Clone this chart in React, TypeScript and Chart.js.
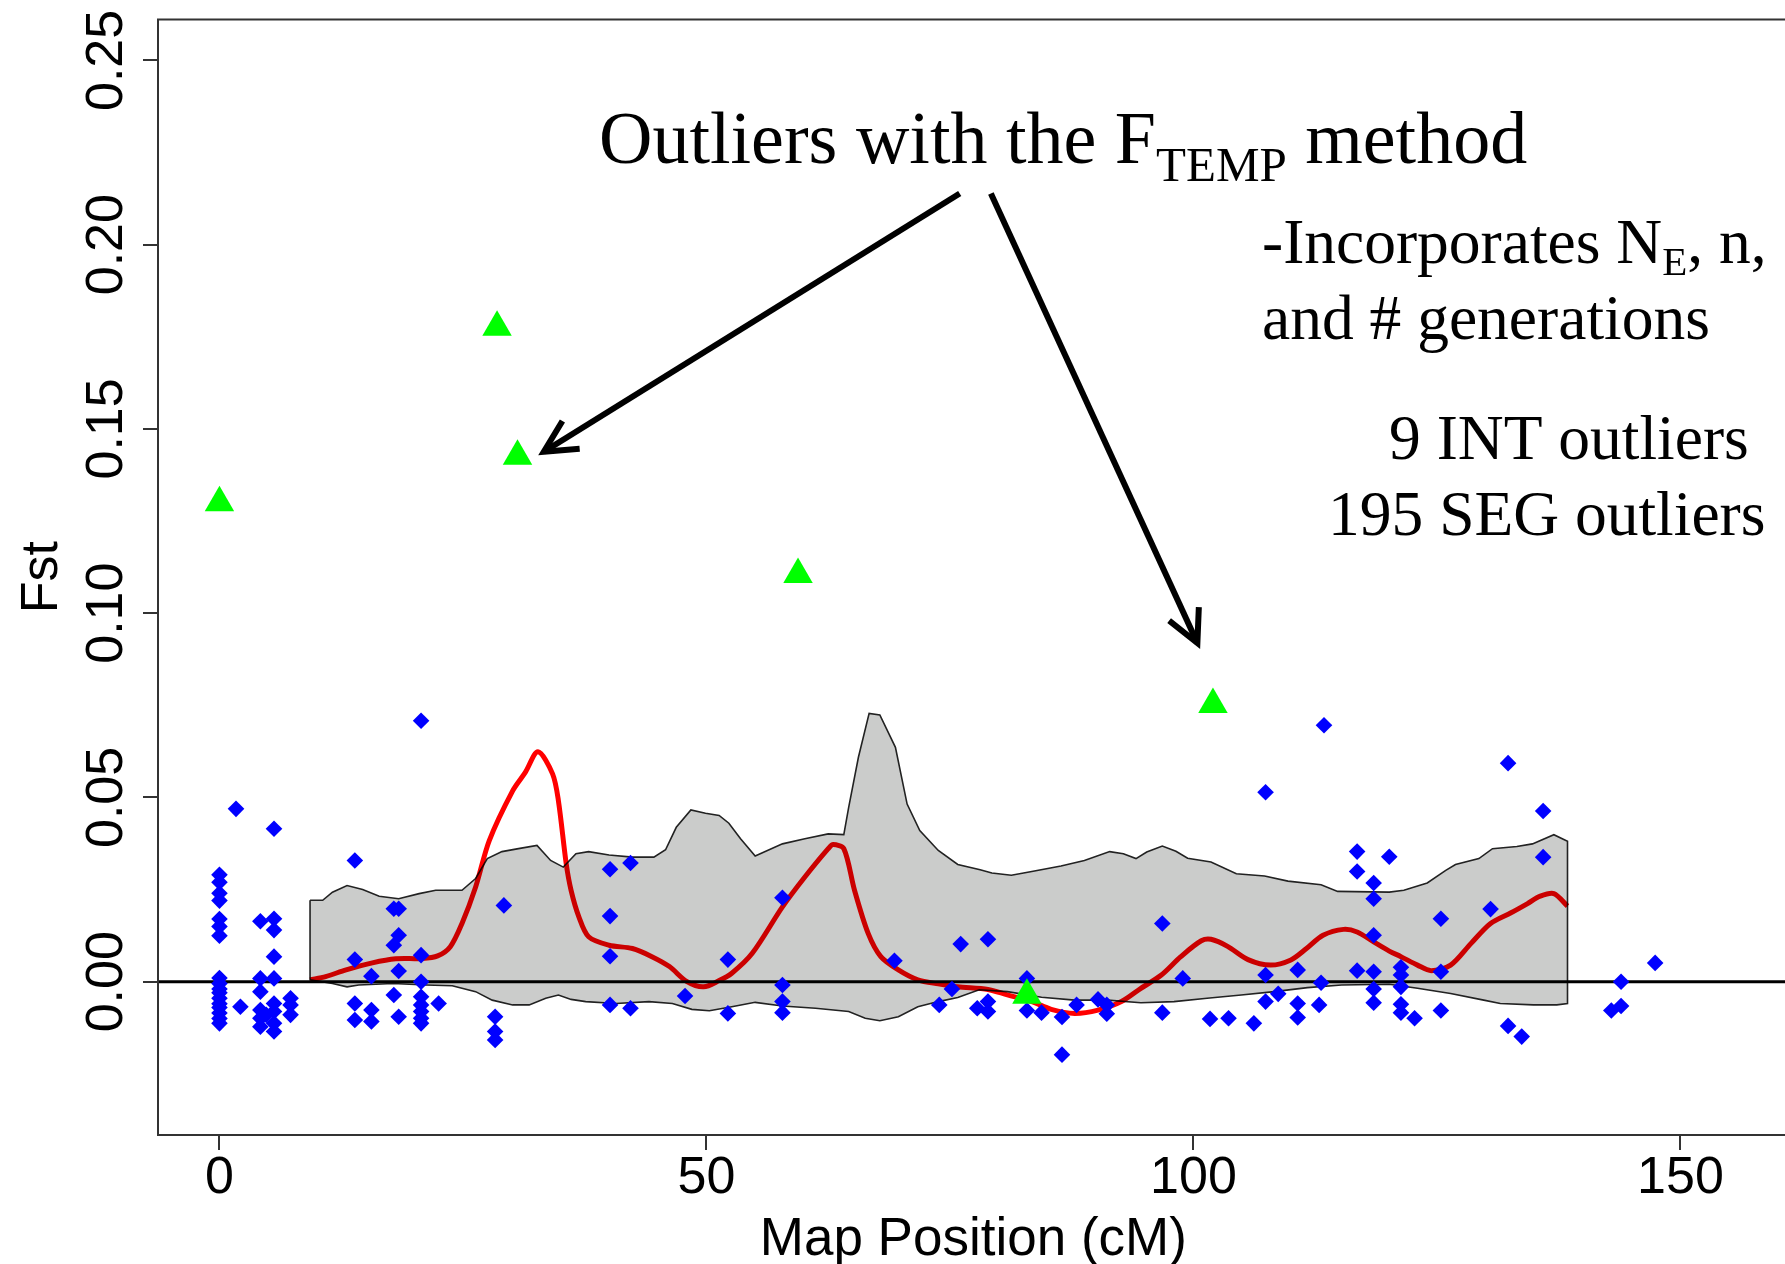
import React, { useEffect, useRef } from "react";
import { Chart, registerables } from "chart.js";

Chart.register(...registerables);

// ---- axes ----
const X_MIN = -6.31;
const X_MAX = 161.1;
const Y_MIN = -0.0416;
const Y_MAX = 0.2611;
const X_TICKS = [0, 50, 100, 150];
const X_TICK_LABELS = ["0", "50", "100", "150"];
const Y_TICKS = [0, 0.05, 0.1, 0.15, 0.2, 0.25];
const Y_TICK_LABELS = ["0.00", "0.05", "0.10", "0.15", "0.20", "0.25"];
const X_TITLE = "Map Position (cM)";
const Y_TITLE = "Fst";

// ---- SNP Fst values (blue diamonds) ----
const snpPos = [
  0, 0, 0, 0, 0, 0, 0, 0, 0, 0, 0, 0, 0, 0, 0, 0, 0,
  1.7, 2.15,
  4.2, 4.2, 4.2, 4.2, 4.2, 4.2, 4.8,
  5.6, 5.6, 5.6, 5.6, 5.6, 5.6, 5.6, 5.6, 5.6,
  7.3, 7.3, 7.3,
  13.9, 13.9, 13.9, 13.9,
  15.6, 15.6, 15.6,
  17.9, 17.9, 17.9,
  18.4, 18.4, 18.4, 18.4,
  20.7, 20.7, 20.7, 20.7, 20.7, 20.7, 20.7, 20.7,
  22.5, 29.2, 28.3, 28.3, 28.3,
  40.1, 40.1, 40.1, 40.1, 42.2, 42.2, 47.8, 52.2, 52.2,
  57.8, 57.8, 57.8, 57.8,
  69.3, 73.9, 75.2, 76.1, 77.8,
  78.9, 78.9, 78.9, 82.9, 82.9, 84.4, 86.5, 86.5, 88.0, 90.2, 91.1, 91.1,
  96.8, 96.8, 98.9, 101.7, 103.6, 106.2,
  107.4, 107.4, 107.4, 108.7, 110.7, 110.7, 110.7, 112.9, 113.1, 113.4,
  116.8, 116.8, 116.8,
  118.5, 118.5, 118.5, 118.5, 118.5, 118.5,
  120.1,
  121.3, 121.3, 121.3, 121.3, 121.3, 122.7,
  125.4, 125.4, 125.4, 130.5, 132.3, 132.3, 133.7, 135.9, 135.9,
  142.9, 143.9, 143.9, 147.4,
];
const snpFst = [
  0.029, 0.027, 0.024, 0.022, 0.017, 0.015, 0.0125, 0.001, -0.0005, -0.002, -0.003, -0.0045, -0.006, -0.007, -0.0085, -0.01, -0.0113,
  0.0469, -0.0068,
  0.0164, 0.0009, -0.0027, -0.0077, -0.0099, -0.0122, -0.009,
  0.0415, 0.0171, 0.014, 0.0068, 0.0009, -0.0059, -0.0081, -0.0113, -0.0135,
  -0.0045, -0.0063, -0.009,
  0.0329, 0.006, -0.0059, -0.0104,
  0.0015, -0.0077, -0.0108,
  0.0198, 0.0099, -0.0036,
  0.0198, 0.0126, 0.0029, -0.0095,
  0.0708, 0.0072, 0.0, -0.0041, -0.0063, -0.0081, -0.0099, -0.0113,
  -0.0059, 0.0207, -0.0095, -0.0135, -0.0158,
  0.0305, 0.0178, 0.0069, -0.0063, 0.0322, -0.0072, -0.0039, 0.006, -0.0086,
  0.0228, -0.0009, -0.0054, -0.0084,
  0.0057, -0.0063, -0.002, 0.0102, -0.0072,
  0.0115, -0.0054, -0.0081, 0.0009, -0.0078, -0.0084, -0.0096, -0.0198, -0.0063, -0.0048, -0.0063, -0.0087,
  0.0158, -0.0084, 0.0009, -0.0101, -0.0099, -0.0113,
  0.0514, 0.0018, -0.0054, -0.0033, 0.0032, -0.0059, -0.0097, -0.0063, -0.0003, 0.0696,
  0.0353, 0.0299, 0.003,
  0.0268, 0.0225, 0.0126, 0.0027, -0.002, -0.0057,
  0.0339,
  0.0039, 0.0018, -0.0014, -0.0061, -0.0084, -0.0099,
  0.0171, 0.0027, -0.0078, 0.0197, 0.0593, -0.012, -0.0149, 0.0463, 0.0338,
  -0.0078, 0.0, -0.0066, 0.0051,
];

// ---- F_TEMP outliers (green triangles) ----
const outlierPos = [0, 28.5, 30.6, 59.4, 102.0, 82.9];
const outlierFst = [0.130, 0.1776, 0.1426, 0.1105, 0.0752, -0.0037];

// ---- neutral envelope (grey band) ----
const bandUpperPos = [
  9.3, 10.6, 11.6, 13.1, 14.7, 16.4, 18.4, 20.5, 22.2, 24.9, 26.3, 27.5, 29.0, 30.7, 32.6, 34.0, 35.3,
  36.6, 37.9, 40.0, 42.4, 44.6, 45.8, 46.9, 48.4, 49.9, 51.3, 52.3, 53.5, 55.0, 57.8, 60.1, 62.5, 64.1,
  64.6, 65.6, 66.7, 67.8, 69.4, 70.6, 71.9, 73.8, 75.8, 78.1, 79.3, 81.3, 83.4, 86.4, 88.8, 91.4, 92.8,
  94.1, 95.2, 96.8, 98.2, 99.4, 101.8, 104.4, 107.3, 109.7, 113.1, 114.8, 120.1, 121.6, 124.0, 125.9,
  126.9, 129.3, 130.7, 133.2, 134.8, 137.0, 138.4,
];
const bandUpperFst = [
  0.0221, 0.0221, 0.0243, 0.0261, 0.025, 0.0232, 0.0225, 0.0239, 0.0248, 0.0248, 0.028, 0.0334, 0.0353, 0.0361, 0.037, 0.0329, 0.0311,
  0.0347, 0.0353, 0.0344, 0.0338, 0.0338, 0.0358, 0.0419, 0.0466, 0.0457, 0.0451, 0.043, 0.0388, 0.0341, 0.0374, 0.0388, 0.0401, 0.0399,
  0.0473, 0.0609, 0.0728, 0.0724, 0.0636, 0.0482, 0.041, 0.0356, 0.0318, 0.0304, 0.0295, 0.0289, 0.0299, 0.0314, 0.0329, 0.0353, 0.0347,
  0.0334, 0.0352, 0.0368, 0.0354, 0.0335, 0.0325, 0.0293, 0.0287, 0.0273, 0.0263, 0.0245, 0.0243, 0.0248, 0.0268, 0.0302,
  0.0318, 0.0334, 0.0361, 0.0367, 0.0374, 0.0399, 0.0381,
];
const bandLowerPos = [
  9.3, 11.6, 13.1, 14.3, 17.8, 21.2, 23.9, 26.3, 28.0, 30.1, 31.8, 33.5, 34.8, 36.1, 37.6, 40.7, 44.1,
  46.5, 48.5, 50.3, 52.6, 55.0, 57.8, 61.2, 64.6, 66.3, 67.8, 69.7, 71.7, 73.8, 75.8, 78.0, 80.9, 84.4,
  87.8, 91.2, 94.6, 98.0, 101.4, 104.9, 108.3, 111.7, 115.2, 120.1, 123.0, 126.4, 129.8, 131.5, 134.9,
  137.3, 138.4,
];
const bandLowerFst = [
  0.0005, -0.0005, -0.0014, -0.0009, -0.0005, -0.0009, -0.0011, -0.0027, -0.005, -0.0063, -0.0063, -0.0045, -0.0036, -0.0048, -0.0054, -0.0059, -0.0054,
  -0.0059, -0.0075, -0.0079, -0.0068, -0.0056, -0.0066, -0.0072, -0.0081, -0.0099, -0.0106, -0.0095, -0.0068, -0.0054, -0.0043, -0.0022, -0.0027, -0.0042,
  -0.005, -0.005, -0.0057, -0.0054, -0.0045, -0.0036, -0.0027, -0.0016, -0.0009, -0.0007, -0.0018, -0.0032, -0.005, -0.0059, -0.0063,
  -0.0063, -0.0059,
];

// ---- smoothed Fst (red line) ----
const smoothPos = [
  9.3, 10.9, 13.0, 15.7, 18.1, 20.8, 22.4, 23.7, 24.9, 26.3, 27.7, 30.1, 31.4, 32.7, 34.2, 34.8, 35.6,
  36.1, 36.9, 37.9, 40.0, 42.4, 44.4, 46.2, 48.0, 49.7, 51.3, 52.6, 54.7, 57.8, 60.1, 62.5, 63.0, 64.1,
  65.2, 66.6, 67.9, 69.7, 71.7, 73.8, 75.8, 78.9, 80.9, 83.4, 85.4, 87.8, 90.2, 92.6, 94.6, 96.7, 98.7,
  100.8, 101.8, 103.5, 105.6, 107.9, 110.0, 111.6, 113.3, 115.4, 116.8, 118.5, 120.1, 121.3, 123.0,
  124.4, 126.4, 128.5, 130.5, 132.6, 134.3, 135.6, 137.0, 138.4,
];
const smoothFst = [
  0.0005, 0.0014, 0.0032, 0.0051, 0.0062, 0.0063, 0.007, 0.0095, 0.0158, 0.0257, 0.0383, 0.0518, 0.0568, 0.0624, 0.0564, 0.0491, 0.032,
  0.0248, 0.0176, 0.0122, 0.0099, 0.009, 0.0068, 0.0041, 0.0, -0.0014, 0.0003, 0.0023, 0.0077, 0.0203, 0.0284, 0.0361, 0.0372, 0.0361,
  0.0248, 0.0131, 0.0068, 0.0032, 0.0005, -0.0006, -0.0014, -0.0021, -0.0036, -0.0054, -0.0075, -0.0086, -0.0077, -0.0054, -0.0018, 0.0018, 0.0068,
  0.0111, 0.0115, 0.0096, 0.006, 0.0045, 0.0059, 0.009, 0.0126, 0.0142, 0.0135, 0.0108, 0.0083, 0.0068, 0.0045,
  0.003, 0.0045, 0.0104, 0.0158, 0.0187, 0.0212, 0.0232, 0.0239, 0.0205,
];

// ---- annotation arrows (data coordinates) ----
const arrowFromPos = [76.0, 79.2];
const arrowFromFst = [0.2139, 0.2139];
const arrowToPos = [33.3, 100.4];
const arrowToFst = [0.1438, 0.0919];

const SANS = '"Liberation Sans", Arial, sans-serif';
const SERIF = '"Liberation Serif", "Times New Roman", serif';

function pts(xs: number[], ys: number[]) {
  const n = Math.min(xs.length, ys.length);
  const out: { x: number; y: number }[] = [];
  for (let i = 0; i < n; i++) out.push({ x: xs[i], y: ys[i] });
  return out;
}

// draw a run of [text, fontSize, baselineOffset] pieces
function runs(ctx: CanvasRenderingContext2D, x: number, y: number, parts: [string, number, number][]) {
  let cx = x;
  for (const [t, size, dy] of parts) {
    ctx.font = `${size}px ${SERIF}`;
    ctx.fillText(t, cx, y + dy);
    cx += ctx.measureText(t).width;
  }
}

export default function App() {
  const ref = useRef<HTMLCanvasElement>(null);

  useEffect(() => {
    const canvas = ref.current;
    if (!canvas) return;
    const upper = pts(bandUpperPos, bandUpperFst);
    const lower = pts(bandLowerPos, bandLowerFst);
    const outline = [...upper, ...lower.slice().reverse(), upper[0]];
    const RED_INDEX = 2;

    const overlay = {
      id: "overlay",
      beforeDatasetDraw(chart: any, args: any) {
        if (args.index === RED_INDEX) {
          chart.ctx.save();
          chart.ctx.globalCompositeOperation = "multiply";
        }
      },
      afterDatasetDraw(chart: any, args: any) {
        if (args.index === RED_INDEX) chart.ctx.restore();
      },
      afterDraw(chart: any) {
        const { ctx, chartArea: a, scales } = chart;
        const xs = scales.x;
        const ys = scales.y;
        ctx.save();
        // plot box
        ctx.strokeStyle = "#333";
        ctx.lineWidth = 2;
        ctx.strokeRect(a.left, a.top, a.right - a.left, a.bottom - a.top);

        // axis labels
        ctx.fillStyle = "#000";
        ctx.font = `52px ${SANS}`;
        ctx.textBaseline = "alphabetic";
        ctx.textAlign = "center";
        X_TICKS.forEach((v, i) => {
          ctx.fillText(X_TICK_LABELS[i], xs.getPixelForValue(v), a.bottom + 58);
        });
        ctx.font = `53px ${SANS}`;
        ctx.fillText(X_TITLE, (a.left + a.right) / 2, a.bottom + 120);
        ctx.font = `52px ${SANS}`;
        Y_TICKS.forEach((v, i) => {
          ctx.save();
          ctx.translate(a.left - 36, ys.getPixelForValue(v));
          ctx.rotate(-Math.PI / 2);
          ctx.fillText(Y_TICK_LABELS[i], 0, 0);
          ctx.restore();
        });
        ctx.save();
        ctx.translate(a.left - 101, (a.top + a.bottom) / 2);
        ctx.rotate(-Math.PI / 2);
        ctx.fillText(Y_TITLE, 0, 0);
        ctx.restore();

        // annotation text
        ctx.textAlign = "left";
        runs(ctx, 599, 163, [["Outliers with the F", 74, 0], ["TEMP", 49, 18], [" method", 74, 0]]);
        runs(ctx, 1262, 263, [["-Incorporates N", 63.5, 0], ["E", 41, 12], [", n,", 63.5, 0]]);
        runs(ctx, 1262, 339, [["and # generations", 63.5, 0]]);
        runs(ctx, 1389, 459, [["9 INT outliers", 63.5, 0]]);
        runs(ctx, 1328, 535, [["195 SEG outliers", 63.5, 0]]);

        // arrows
        ctx.strokeStyle = "#000";
        ctx.lineWidth = 6;
        ctx.lineJoin = "miter";
        const head = 36;
        const ang = (27 * Math.PI) / 180;
        for (let i = 0; i < arrowFromPos.length; i++) {
          const x0 = xs.getPixelForValue(arrowFromPos[i]);
          const y0 = ys.getPixelForValue(arrowFromFst[i]);
          const x1 = xs.getPixelForValue(arrowToPos[i]);
          const y1 = ys.getPixelForValue(arrowToFst[i]);
          const t = Math.atan2(y0 - y1, x0 - x1);
          ctx.beginPath();
          ctx.moveTo(x0, y0);
          ctx.lineTo(x1, y1);
          ctx.stroke();
          ctx.beginPath();
          ctx.moveTo(x1 + head * Math.cos(t + ang), y1 + head * Math.sin(t + ang));
          ctx.lineTo(x1, y1);
          ctx.lineTo(x1 + head * Math.cos(t - ang), y1 + head * Math.sin(t - ang));
          ctx.stroke();
        }
        ctx.restore();
      },
    };

    const chart = new Chart(canvas, {
      type: "scatter",
      data: {
        datasets: [
          {
            label: "F_TEMP outliers",
            data: pts(outlierPos, outlierFst),
            pointStyle: "triangle",
            pointRadius: 17,
            backgroundColor: "#00FF00",
            borderWidth: 0,
            order: 0,
          } as any,
          {
            label: "SNP Fst",
            data: pts(snpPos, snpFst),
            pointStyle: "rectRot",
            pointRadius: 8.3,
            backgroundColor: "#0000FF",
            borderWidth: 0,
            order: 1,
          },
          {
            type: "line",
            label: "smoothed",
            data: pts(smoothPos, smoothFst),
            borderColor: "#FF0000",
            borderWidth: 5,
            pointRadius: 0,
            tension: 0.3,
            borderJoinStyle: "round",
            fill: false,
            order: 2,
          },
          {
            type: "line",
            label: "zero",
            data: [
              { x: X_MIN, y: 0 },
              { x: X_MAX, y: 0 },
            ],
            borderColor: "#000",
            borderWidth: 3,
            pointRadius: 0,
            fill: false,
            order: 3,
          },
          {
            type: "line",
            label: "band outline",
            data: outline,
            borderColor: "#222",
            borderWidth: 1.6,
            pointRadius: 0,
            fill: false,
            order: 4,
          },
          {
            type: "line",
            label: "band upper",
            data: upper,
            borderWidth: 0,
            borderColor: "rgba(0,0,0,0)",
            backgroundColor: "#CBCCCB",
            pointRadius: 0,
            fill: "+1",
            order: 5,
          },
          {
            type: "line",
            label: "band lower",
            data: lower,
            borderWidth: 0,
            borderColor: "rgba(0,0,0,0)",
            pointRadius: 0,
            fill: false,
            order: 6,
          },
        ] as any,
      },
      options: {
        responsive: false,
        animation: false,
        devicePixelRatio: 1,
        layout: { padding: { left: 0, top: 19.5, right: 11.4, bottom: 0 }, autoPadding: false },
        plugins: { legend: { display: false }, tooltip: { enabled: false } },
        scales: {
          x: {
            type: "linear",
            min: X_MIN,
            max: X_MAX,
            afterBuildTicks: (s: any) => {
              s.ticks = X_TICKS.map((v) => ({ value: v }));
            },
            afterFit: (s: any) => {
              s.height = 129;
            },
            ticks: { display: false },
            grid: { display: true, drawOnChartArea: false, drawTicks: true, tickLength: 15, color: "#333", lineWidth: 2 },
            border: { display: false },
          },
          y: {
            type: "linear",
            min: Y_MIN,
            max: Y_MAX,
            afterBuildTicks: (s: any) => {
              s.ticks = Y_TICKS.map((v) => ({ value: v }));
            },
            afterFit: (s: any) => {
              s.width = 158;
            },
            ticks: { display: false },
            grid: { display: true, drawOnChartArea: false, drawTicks: true, tickLength: 15, color: "#333", lineWidth: 2 },
            border: { display: false },
          },
        },
      } as any,
      plugins: [overlay],
    });
    return () => chart.destroy();
  }, []);

  return (
    <div
      style={{
        position: "fixed",
        left: 0,
        top: 0,
        width: 1785,
        height: 1264,
        overflow: "hidden",
        background: "#fff",
      }}
    >
      <canvas ref={ref} width={1800} height={1264} style={{ display: "block", width: 1800, height: 1264 }} />
    </div>
  );
}
